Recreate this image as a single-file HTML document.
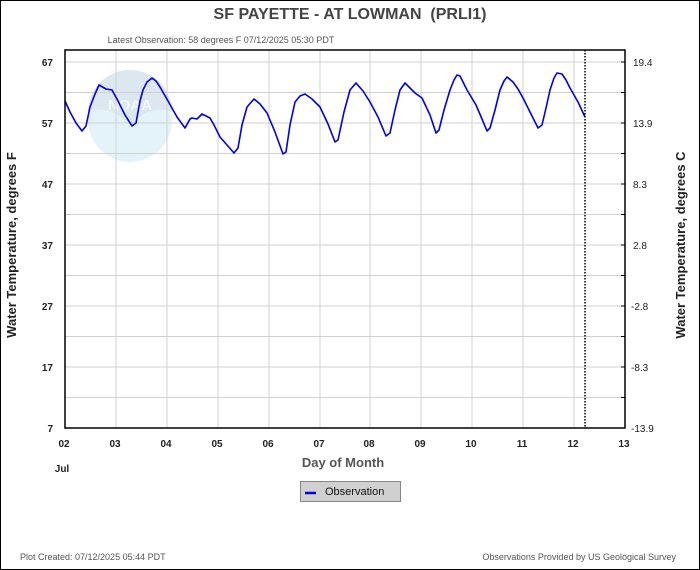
<!DOCTYPE html>
<html><head><style>
body{margin:0;background:#fff}
svg{display:block;font-family:"Liberation Sans",sans-serif}
</style></head><body>
<svg width="700" height="570" viewBox="0 0 700 570">
<rect x="0.5" y="0.5" width="699" height="569" fill="#fff" stroke="#000"/>
<text x="350" y="19" text-anchor="middle" font-size="16" font-weight="bold" fill="#444">SF PAYETTE - AT LOWMAN&#160; (PRLI1)</text>
<text x="221" y="43" text-anchor="middle" font-size="9" fill="#555">Latest Observation: 58 degrees F 07/12/2025 05:30 PDT</text>
<!-- logo -->
<circle cx="130" cy="120" r="42" fill="#e4f3fa"/>
<path d="M88,112 A42,42 0 0 1 172,112 Q150,104 130,125 Q110,104 88,112Z" fill="#dde7f0"/>
<text x="130" y="110" text-anchor="middle" font-size="15" font-weight="bold" fill="#f2f7fa">NOAA</text>
<g stroke="#d0d0d0" stroke-width="1">
<line x1="65" y1="92.5" x2="625" y2="92.5"/><line x1="65" y1="123" x2="625" y2="123"/><line x1="65" y1="153.5" x2="625" y2="153.5"/><line x1="65" y1="184" x2="625" y2="184"/><line x1="65" y1="214.5" x2="625" y2="214.5"/><line x1="65" y1="245" x2="625" y2="245"/><line x1="65" y1="275.5" x2="625" y2="275.5"/><line x1="65" y1="306" x2="625" y2="306"/><line x1="65" y1="336.5" x2="625" y2="336.5"/><line x1="65" y1="367" x2="625" y2="367"/><line x1="65" y1="397.5" x2="625" y2="397.5"/><line x1="65" y1="62" x2="625" y2="62"/>
<line x1="116" y1="50" x2="116" y2="428"/><line x1="167" y1="50" x2="167" y2="428"/><line x1="218" y1="50" x2="218" y2="428"/><line x1="269" y1="50" x2="269" y2="428"/><line x1="320" y1="50" x2="320" y2="428"/><line x1="370" y1="50" x2="370" y2="428"/><line x1="421" y1="50" x2="421" y2="428"/><line x1="472" y1="50" x2="472" y2="428"/><line x1="523" y1="50" x2="523" y2="428"/><line x1="574" y1="50" x2="574" y2="428"/>
</g>
<polyline fill="none" stroke="#0000ee" stroke-width="1.6" stroke-linejoin="round" points="65,101 70,112 76,123 82,131 86,126 90,107 95,94 99,85 106,89 112,90 118,101 125,115 132,126 136,123 140,101 143,90 147,82 152,78 156,81 160,87 168,101 177,117 185,128 190,119 192,118 197,119 202,114 210,118 214,125 220,137 227,145 234,153 238,148 242,125 247,107 254,99 260,104 267,113 275,132 283,154 286,152 290,125 295,102 300,96 305,94 312,99 320,107 328,124 335,142 338,140 344,112 350,90 356,83 363,91 370,102 378,117 386,136 390,133 395,110 400,90 405,83 410,88 415,93 422,98 430,115 436,133 439,130 444,110 450,90 454,80 457,75 460,76 467,90 476,105 482,119 487,131 490,128 495,110 500,90 504,81 507,77 513,82 518,89 523,98 530,112 538,128 542,125 546,108 550,90 554,78 557,73 562,74 566,80 570,88 578,102 585,117"/>
<line x1="585" y1="50" x2="585" y2="428" stroke="#000" stroke-width="1.5" stroke-dasharray="1.5,1.5"/>
<rect x="65" y="50" width="560" height="378" fill="none" stroke="#000" stroke-width="1.5"/>
<g stroke="#000"><line x1="621" y1="62" x2="625" y2="62"/><line x1="621" y1="92.5" x2="625" y2="92.5"/><line x1="621" y1="123" x2="625" y2="123"/><line x1="621" y1="153.5" x2="625" y2="153.5"/><line x1="621" y1="184" x2="625" y2="184"/><line x1="621" y1="214.5" x2="625" y2="214.5"/><line x1="621" y1="245" x2="625" y2="245"/><line x1="621" y1="275.5" x2="625" y2="275.5"/><line x1="621" y1="306" x2="625" y2="306"/><line x1="621" y1="336.5" x2="625" y2="336.5"/><line x1="621" y1="367" x2="625" y2="367"/><line x1="621" y1="397.5" x2="625" y2="397.5"/></g>
<g font-size="10" font-weight="bold" fill="#222" text-anchor="end">
<text x="53" y="66">67</text><text x="53" y="127">57</text><text x="53" y="188">47</text><text x="53" y="249">37</text><text x="53" y="310">27</text><text x="53" y="371">17</text><text x="53" y="432">7</text>
</g>
<g font-size="10" fill="#222" text-anchor="start">
<text x="633" y="66">19.4</text><text x="633" y="127">13.9</text><text x="633" y="188">8.3</text><text x="633" y="249">2.8</text><text x="631" y="310">-2.8</text><text x="631" y="371">-8.3</text><text x="631" y="432">-13.9</text>
</g>
<g font-size="10" font-weight="bold" fill="#222" text-anchor="middle">
<text x="64" y="447">02</text><text x="115" y="447">03</text><text x="166" y="447">04</text><text x="217" y="447">05</text><text x="268" y="447">06</text><text x="319" y="447">07</text><text x="369" y="447">08</text><text x="420" y="447">09</text><text x="471" y="447">10</text><text x="522" y="447">11</text><text x="573" y="447">12</text><text x="624" y="447">13</text>
<text x="62" y="472">Jul</text>
</g>
<text x="343" y="467" text-anchor="middle" font-size="13" font-weight="bold" fill="#555">Day of Month</text>
<text transform="translate(16,245) rotate(-90)" text-anchor="middle" font-size="13" font-weight="bold" fill="#222">Water Temperature, degrees F</text>
<text transform="translate(685,245) rotate(-90)" text-anchor="middle" font-size="13" font-weight="bold" fill="#222">Water Temperature, degrees C</text>
<rect x="300.5" y="481.5" width="100" height="20" fill="#d0d0d0" stroke="#888"/>
<line x1="305" y1="493" x2="316" y2="493" stroke="#0000ee" stroke-width="2.5"/>
<text x="325" y="495" font-size="11" fill="#111">Observation</text>
<text x="20" y="560" font-size="9" fill="#555">Plot Created: 07/12/2025 05:44 PDT</text>
<text x="676" y="560" text-anchor="end" font-size="9" fill="#555">Observations Provided by US Geological Survey</text>
</svg>
</body></html>
